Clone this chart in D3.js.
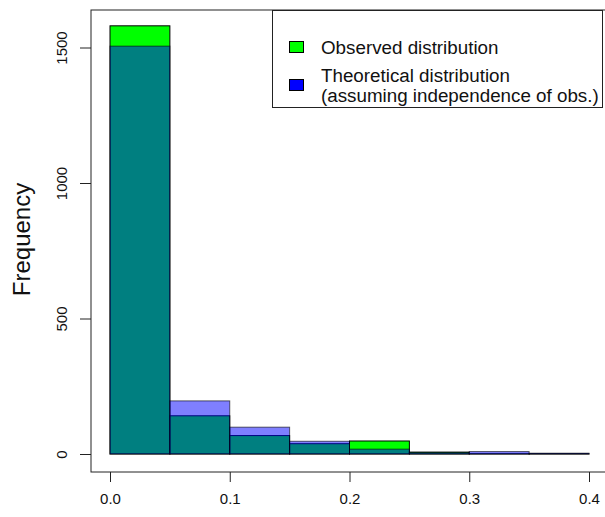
<!DOCTYPE html>
<html>
<head>
<meta charset="utf-8">
<script src="https://cdn.jsdelivr.net/npm/d3@7"></script>
<style>
  body { margin: 0; background: #fff; }
  text { font-family: "Liberation Sans", Arial, sans-serif; fill: #111; }
</style>
</head>
<body>
<script>
// histogram bins (left edges), width 0.05
var binStarts = [0, 0.05, 0.10, 0.15, 0.20, 0.25, 0.30, 0.35];
var observed = [1580, 141, 68, 38, 48, 7, 1, 1];
var theoretical = [1505, 196, 99, 47, 18, 5, 9, 3];
var xTicks = [0, 0.1, 0.2, 0.3, 0.4];
var yTicks = [0, 500, 1000, 1500];
var legendLabels = ["Observed distribution", "Theoretical distribution", "(assuming independence of obs.)"];
var binWidth = 0.05;

var W = 605, H = 517;
var box = { left: 91, top: 10, right: 608, bottom: 472 };

var svg = d3.select('body').append('svg')
  .attr('width', W)
  .attr('height', H);

var x = d3.scaleLinear().domain([0, 0.4]).range([110, 589]);
var y = d3.scaleLinear().domain([0, 1500]).range([454, 47.5]);

// observed bars (opaque green)
svg.append('g').selectAll('rect').data(binStarts)
  .enter().append('rect')
  .attr('x', function(d) { return x(d); })
  .attr('width', function(d) { return x(d + binWidth) - x(d); })
  .attr('y', function(d, i) { return y(observed[i]); })
  .attr('height', function(d, i) { return y(0) - y(observed[i]); })
  .style('fill', '#00ff00')
  .style('stroke', '#000')
  .style('stroke-width', 1);

// theoretical bars (half-transparent blue on top)
svg.append('g').selectAll('rect').data(binStarts)
  .enter().append('rect')
  .attr('x', function(d) { return x(d); })
  .attr('width', function(d) { return x(d + binWidth) - x(d); })
  .attr('y', function(d, i) { return y(theoretical[i]); })
  .attr('height', function(d, i) { return y(0) - y(theoretical[i]); })
  .style('fill', '#0000ff')
  .style('fill-opacity', 0.5)
  .style('stroke', '#000')
  .style('stroke-opacity', 0.6)
  .style('stroke-width', 1);

// plot frame
svg.append('rect')
  .attr('x', box.left).attr('y', box.top)
  .attr('width', box.right - box.left)
  .attr('height', box.bottom - box.top)
  .style('fill', 'none')
  .style('stroke', '#222')
  .style('stroke-width', 1);

// axes
var xAxis = svg.append('g')
  .attr('transform', 'translate(0,' + box.bottom + ')')
  .call(d3.axisBottom(x).tickValues(xTicks).tickFormat(d3.format('.1f')).tickSize(10).tickSizeOuter(0).tickPadding(11));
xAxis.select('.domain').remove();
xAxis.selectAll('line').style('stroke', '#222');
xAxis.selectAll('text').style('font-size', '15px').style('fill', '#111');

var yAxis = svg.append('g')
  .attr('transform', 'translate(' + box.left + ',0)')
  .call(d3.axisLeft(y).tickValues(yTicks).tickFormat(d3.format('d')).tickSize(11).tickSizeOuter(0));
yAxis.select('.domain').remove();
yAxis.selectAll('line').style('stroke', '#222');
yAxis.selectAll('text')
  .attr('x', 0).attr('y', -24).attr('dy', 0)
  .attr('transform', 'rotate(-90)')
  .style('text-anchor', 'middle')
  .style('font-size', '15px')
  .style('fill', '#111');

svg.append('text')
  .attr('transform', 'translate(29.5,239.5) rotate(-90)')
  .attr('text-anchor', 'middle')
  .style('font-size', '24px')
  .text('Frequency');

// legend
var lg = svg.append('g');
lg.append('rect')
  .attr('x', 272.5).attr('y', 10.5)
  .attr('width', 330).attr('height', 97)
  .style('fill', '#fff')
  .style('stroke', '#222')
  .style('stroke-width', 1);
var keyColors = ['#00ff00', '#0000ff'];
var keyY = [41, 79];
lg.selectAll('rect.key').data(keyColors)
  .enter().append('rect')
  .attr('class', 'key')
  .attr('x', 289.5)
  .attr('y', function(d, i) { return keyY[i] + 0.5; })
  .attr('width', 14).attr('height', 11)
  .style('fill', function(d) { return d; })
  .style('stroke', '#000');
var textY = [54, 81.5, 101.5];
lg.selectAll('text').data(legendLabels)
  .enter().append('text')
  .attr('x', 321)
  .attr('y', function(d, i) { return textY[i]; })
  .style('font-size', '18.8px')
  .text(function(d) { return d; });
</script>
</body>
</html>
